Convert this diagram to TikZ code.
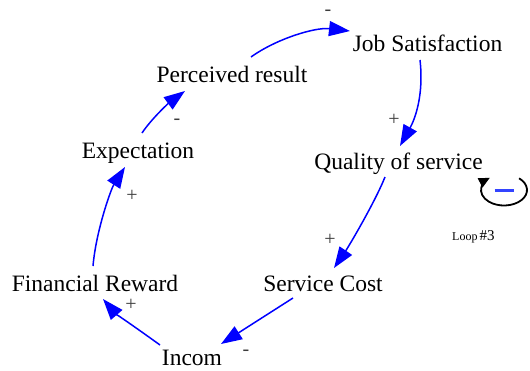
\documentclass[tikz,border=0pt]{standalone}
\usepackage{fontspec}
\setmainfont{Liberation Serif}
\usetikzlibrary{arrows.meta}
\definecolor{linkblue}{RGB}{0,0,255}
\definecolor{minusblue}{RGB}{51,68,255}
\definecolor{signgray}{RGB}{60,60,60}
\begin{document}
\begin{tikzpicture}[x=1pt,y=-1pt,
  var/.style={anchor=base,inner sep=0pt,font=\fontsize{23.5}{27}\selectfont},
  sign/.style={anchor=center,inner sep=0pt,text=signgray,font=\fontsize{20}{24}\selectfont},
  link/.style={draw=linkblue,line width=1.5pt,-{Triangle[length=21pt,width=15pt]},fill=none},
]
\useasboundingbox (0,0) rectangle (530,370);
% variables
\node[var] (js) at (427.5,51) {Job Satisfaction};
\node[var] (pr) at (232,82) {Perceived result};
\node[var] (ex) at (138,158) {Expectation};
\node[var] (fr) at (95,291) {Financial Reward};
\node[var] (in) at (192,365) {Incom};
\node[var] (sc) at (323,291) {Service Cost};
\node[var] (qs) at (398.5,169) {Quality of service};
% links
\draw[link] ([shift={(19,-25)}]pr.base) .. controls +(25,-18) and +(-35,-4) .. ([shift={(-77.5,-20)}]js.base);
\draw[link] ([shift={(-7.5,9)}]js.base) .. controls +(4,35) and +(15,-27) .. ([shift={(1.5,-23)}]qs.base);
\draw[link] ([shift={(-13.5,8)}]qs.base) .. controls +(-10,25) and +(15,-22) .. ([shift={(11,-23)}]sc.base);
\draw[link] ([shift={(-30,7)}]sc.base) -- ([shift={(29,-21)}]in.base);
\draw[link] ([shift={(-32,-20)}]in.base) .. controls +(-18,-13) and +(12,14) .. ([shift={(8,8)}]fr.base);
\draw[link] ([shift={(-2,-25)}]fr.base) .. controls +(3,-35) and +(-14,22) .. ([shift={(-13,9)}]ex.base);
\draw[link] ([shift={(4,-25)}]ex.base) .. controls +(10,-15) and +(-15,11) .. ([shift={(-47,9)}]pr.base);
% polarity signs
\node[sign] (s1) at (328,13) {-};
\node[sign] (s2) at (394,120) {+};
\node[sign] (s3) at (330,240) {+};
\node[sign] (s4) at (246,353) {-};
\node[sign] (s5) at (131,305) {+};
\node[sign] (s6) at (132,196) {+};
\node[sign] (s7) at (177,122) {-};
% loop symbol
\begin{scope}[shift={(504,190)},x=1pt,y=1pt]
  \draw[line width=1.8pt,-{Triangle[length=11pt,width=10pt]}] (49:23pt and 15.5pt) arc[start angle=49,end angle=-232,x radius=23pt,y radius=15.5pt];
  \draw[minusblue,line width=3pt] (-9.5,0) -- (9.5,0);
\end{scope}
\node[anchor=base west,inner sep=0pt] (loop) at (452,240) {\fontsize{12}{14}\selectfont Loop\,\fontsize{15}{17}\selectfont\#3};
\end{tikzpicture}
\end{document}
